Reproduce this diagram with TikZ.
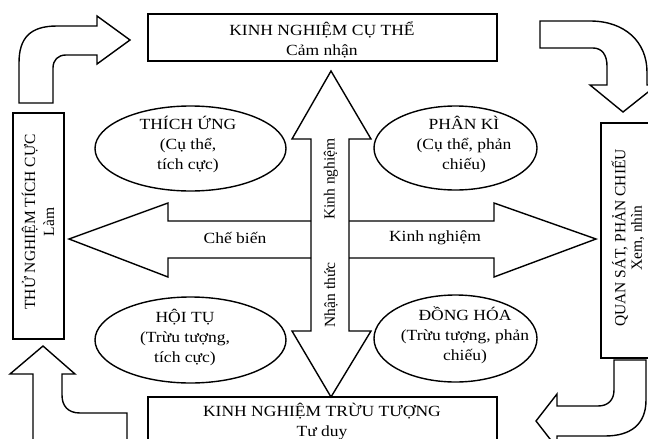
\documentclass[tikz,border=0pt]{standalone}
\usepackage{fontspec}
\setmainfont{Liberation Serif}
\newfontfamily\wfont[FakeStretch=1.13]{Liberation Serif}
\usetikzlibrary{shapes.geometric}
\begin{document}
\begin{tikzpicture}[x=1pt,y=-1pt,line width=1.4pt,line join=miter,
  box/.style={draw,rectangle,inner sep=0pt,fill=white},
  oval/.style={draw,ellipse,inner sep=0pt},
  arr/.style={draw,fill=white},
  lbl/.style={font=\wfont\fontsize{15.5}{20}\selectfont,align=center,inner sep=0pt},
  rlbl/.style={font=\fontsize{15.5}{19}\selectfont,align=center,inner sep=0pt,rotate=90}]
\useasboundingbox (0,0) rectangle (648,439);
\fill[white] (0,0) rectangle (648,439);
\clip (0,0) rectangle (648,439);

% boxes
\node[box,minimum width=349pt,minimum height=47pt] (top) at (322.5,37.5) {};
\node[box,minimum width=349pt,minimum height=60pt] (bot) at (322.5,427) {};
\node[box,minimum width=51pt,minimum height=226pt] (left) at (38.5,226) {};
\node[box,minimum width=60pt,minimum height=235pt] (right) at (631,240.5) {};

\node[lbl] (toptext) at (322,40) {KINH NGHIỆM CỤ THỂ\\Cảm nhận};
\node[lbl] (bottext) at (322,422) {KINH NGHIỆM TRỪU TƯỢNG\\Tư duy};
\node[rlbl] (lefttext) at (38,222) {THỬ NGHIỆM TÍCH CỰC\\Làm};
\node[rlbl,font=\fontsize{15.5}{16.5}\selectfont] (righttext) at (628,238) {QUAN SÁT, PHẢN CHIẾU\\Xem, nhìn};

% ellipses
\node[oval,minimum width=191pt,minimum height=85pt] (e1) at (190.5,148.5) {};
\node[oval,minimum width=163pt,minimum height=84pt] (e2) at (455.5,148) {};
\node[oval,minimum width=191pt,minimum height=86pt] (e3) at (190.5,340) {};
\node[oval,minimum width=163pt,minimum height=87pt] (e4) at (455.5,338.5) {};
\node[lbl] (t1) at (188,144) {THÍCH ỨNG\\(Cụ thể,\\tích cực)};
\node[lbl] (t2) at (464,144) {PHÂN KÌ\\(Cụ thể, phản\\chiếu)};
\node[lbl] (t3) at (185,337) {HỘI TỤ\\(Trừu tượng,\\tích cực)};
\node[lbl] (t4) at (465,335) {ĐỒNG HÓA\\(Trừu tượng, phản\\chiếu)};

% central cross arrows
\draw[arr] (331,71) -- (371,139) -- (349,139) -- (349,331) -- (371,331) -- (331,397)
  -- (292,331) -- (311,331) -- (311,139) -- (292,139) -- cycle;
\draw (311,221) -- (168,221) -- (168,203) -- (69,239) -- (168,277) -- (168,258) -- (311,258);
\draw (349,221) -- (494,221) -- (494,203) -- (596,239) -- (494,277) -- (494,258) -- (349,258);

\node[lbl] (chebien) at (235,238) {Chế biến};
\node[lbl] (kinhr) at (435,238) {Kinh nghiệm};
\node[rlbl] (kinhv) at (331,179) {Kinh nghiệm};
\node[rlbl] (nhanthuc) at (331,295) {Nhận thức};

% corner arrows
\draw[arr] (19,103) -- (19,63) .. controls (19,38) and (30,26) .. (57,26) -- (97,26) -- (97,16)
  -- (130,40) -- (97,64) -- (97,55) -- (66,55) .. controls (58,55) and (53,60) .. (53,68)
  -- (53,103) -- cycle;
\draw[arr] (540,21) -- (590,21) .. controls (625,21) and (647,42) .. (647,72) -- (647,85)
  -- (657,85) -- (623,112) -- (590,85) -- (607,85) -- (607,66)
  .. controls (607,55) and (602,48) .. (593,48) -- (540,48) -- cycle;
\draw[arr] (127,460) -- (127,413) -- (80,413) .. controls (68,413) and (62,406) .. (62,395)
  -- (62,374) -- (75,374) -- (43,346) -- (10,374) -- (33,374) -- (33,460);
\draw[arr] (614,360) -- (646,360) -- (646,400) .. controls (646,425) and (630,436) .. (605,436)
  -- (557,436) -- (557,448) -- (536,421) -- (557,394) -- (557,406) -- (598,406)
  .. controls (608,406) and (614,400) .. (614,390) -- cycle;
\end{tikzpicture}
\end{document}
